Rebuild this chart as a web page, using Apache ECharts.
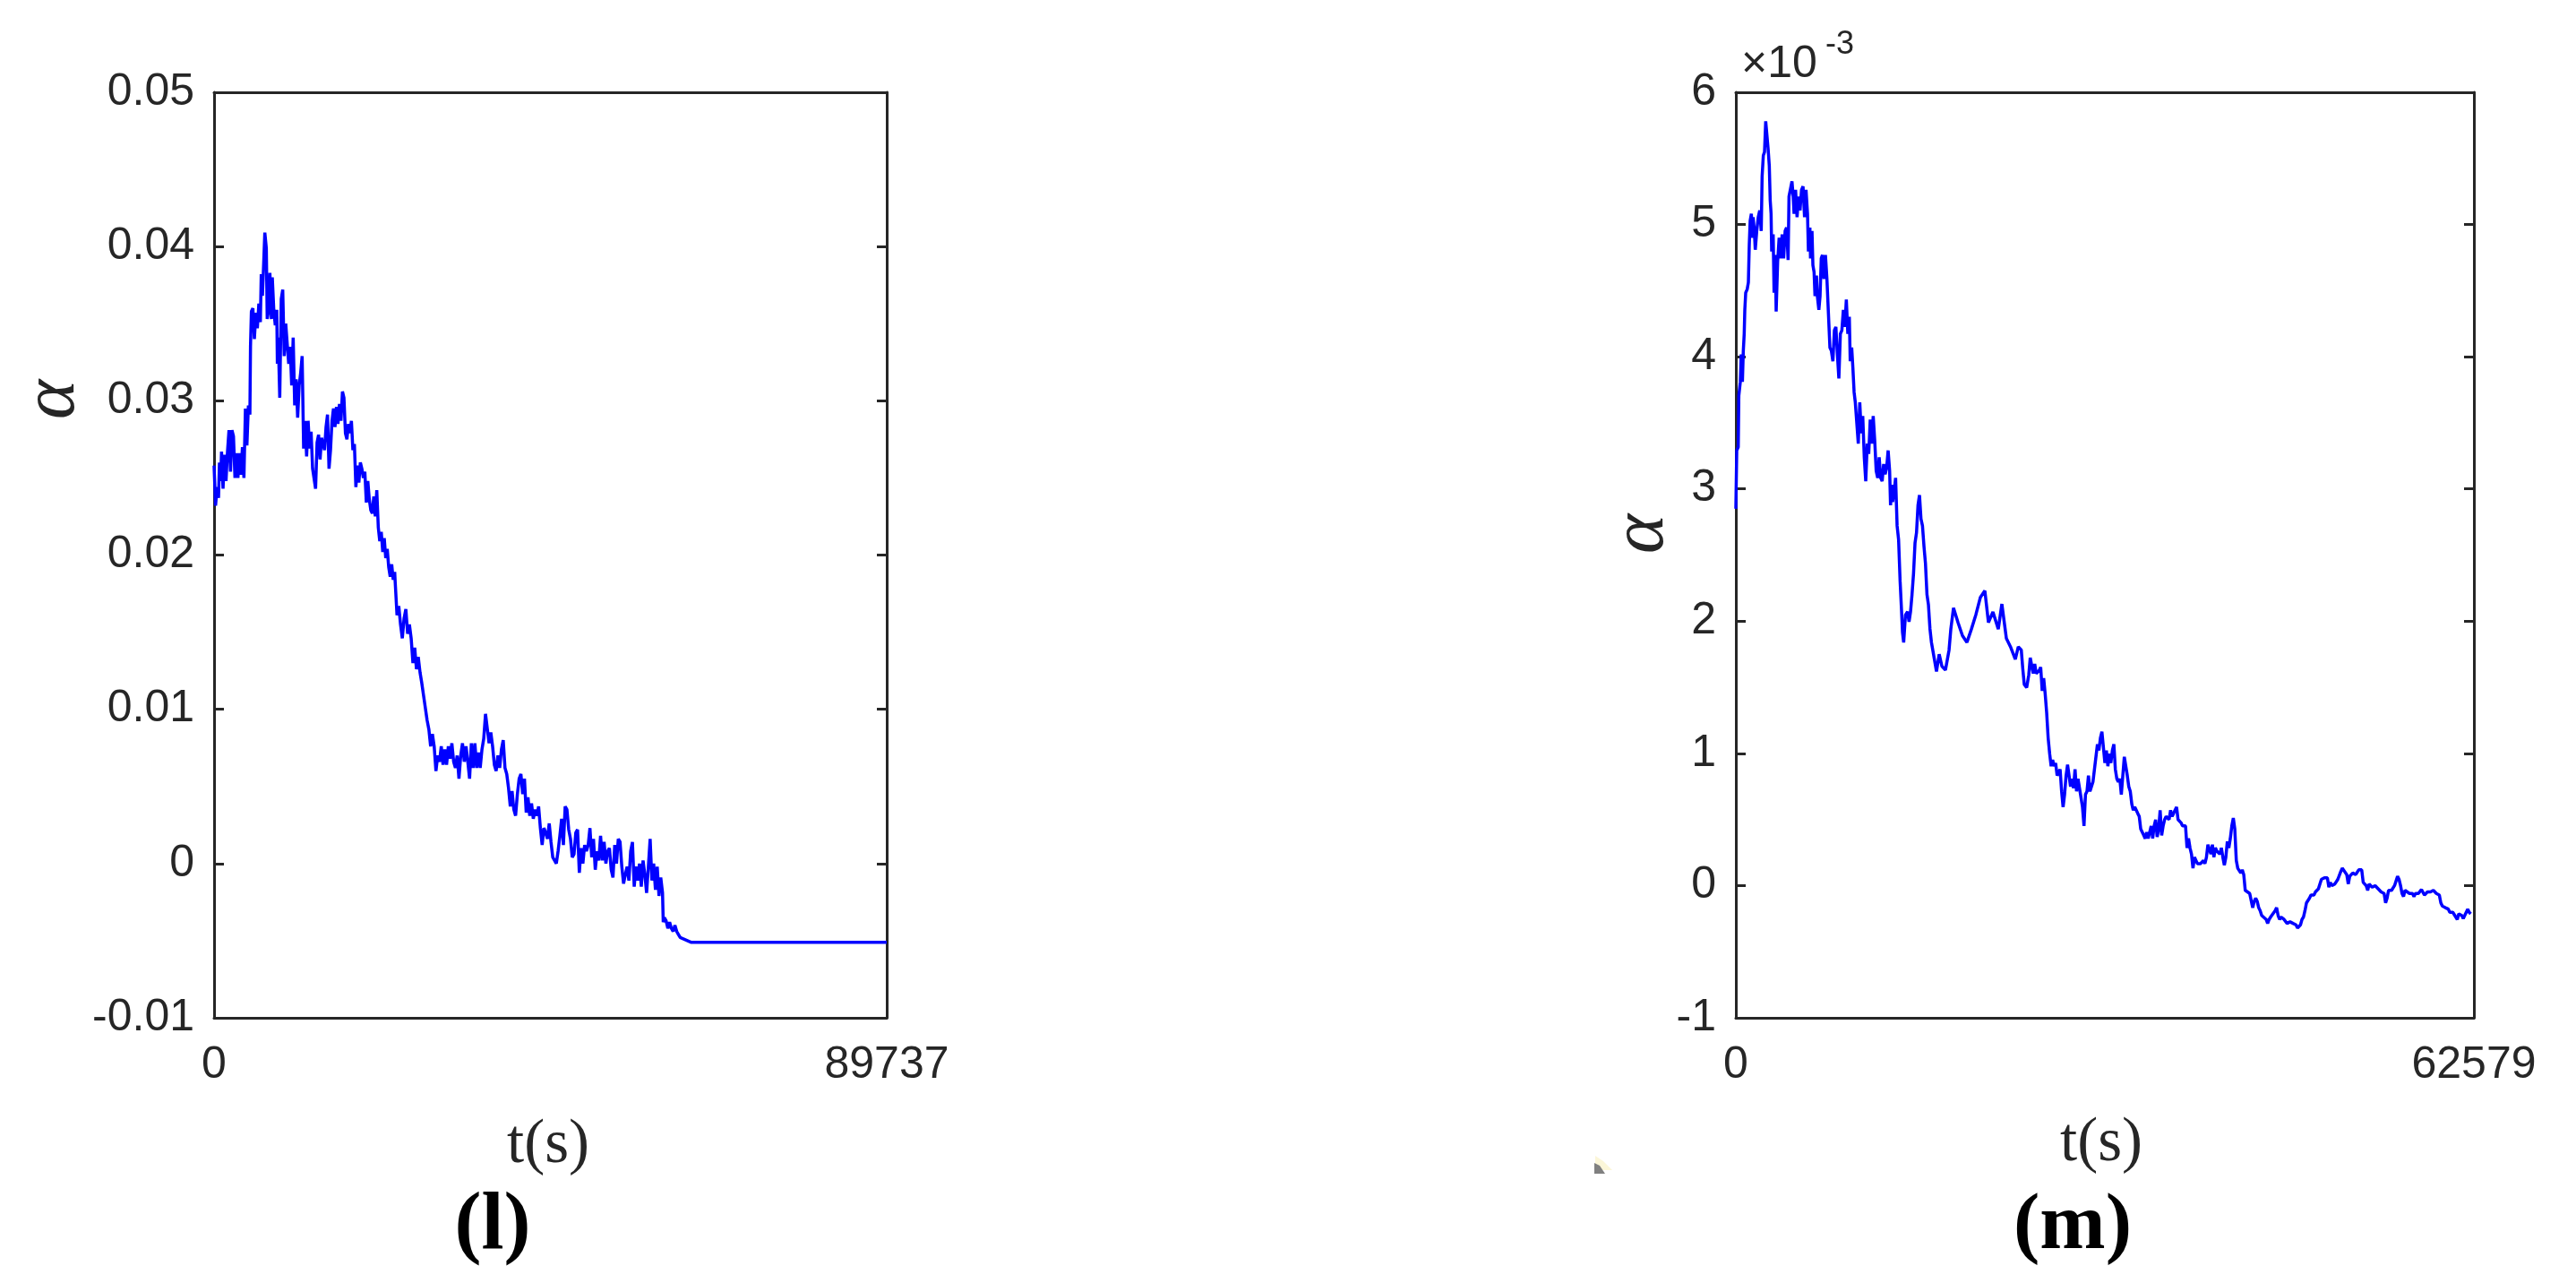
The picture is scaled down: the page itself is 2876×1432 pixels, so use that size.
<!DOCTYPE html>
<html>
<head>
<meta charset="utf-8">
<script src="https://cdn.jsdelivr.net/npm/echarts@6/dist/echarts.min.js"></script>
<style>
html,body{margin:0;padding:0;background:#fff;}
#c{width:2876px;height:1432px;}
</style>
</head>
<body>
<div id="c"></div>
<script>
// ---------- Panel (l) ----------
const lXMax = 89737;
const lYTicks = [-0.01, 0, 0.01, 0.02, 0.03, 0.04, 0.05];
const lTime = [0,199,398,597,717,876,996,1195,1394,1593,1792,1992,2191,2390,2589,2788,2987,3186,3386,3585,3784,3983,4182,4381,4580,4780,4859,4979,5178,5377,5576,5775,5975,6174,6293,6452,6572,6771,6970,7090,7289,7448,7647,7767,7966,8165,8364,8444,8563,8763,8962,9161,9360,9559,9758,9958,10157,10356,10555,10754,10953,11152,11352,11551,11750,11949,12148,12347,12546,12746,12945,13144,13542,13741,13941,14140,14339,14737,14936,15135,15335,15534,15733,15932,16131,16330,16529,16729,16928,17127,17326,17525,17724,17924,18123,18322,18521,18720,18919,19118,19318,19517,19716,19915,20114,20313,20512,20712,20911,21110,21309,21508,21707,21907,22106,22305,22504,22703,22902,23101,23301,23500,23699,23898,24097,
24169,24405,24641,24877,25113,25349,25586,25822,26058,26294,26530,26766,27002,27239,27475,27711,27947,28183,28419,28656,28892,29128,29364,29600,29836,30072,30309,30545,30781,31017,31253,31489,31725,31962,32198,32434,32670,32906,33142,33379,33615,33851,34087,34323,34559,34795,35032,35268,35504,35740,35976,36212,36448,36685,36921,37157,37393,37629,37865,38102,38338,38574,38810,39046,39282,39518,39755,39991,40227,40463,40699,40935,41171,41408,41644,41880,42116,42352,42588,42825,43061,43297,43533,43769,44005,44241,44478,44714,44950,45186,45422,45658,45894,46131,46367,46603,46839,47075,47311,47548,47784,48020,48256,48492,48728,48964,49201,49437,49673,49909,50145,50381,50617,50854,51090,51326,51562,51798,52034,52271,52507,52743,52979,53215,53451,53687,53924,54160,54396,54632,54868,55104,55340,55577,55813,56049,56285,56521,56757,56994,57230,57466,57702,57938,58174,58410,58647,58883,59119,59355,59591,59827,59922,60063,60300,60536,60772,61008,61244,61480,61717,61953,62189,62661,63133,63606,64078,89737];
const lAlpha = [0.0258,0.0232,0.0244,0.0237,0.0260,0.0248,0.0267,0.0243,0.0265,0.0248,0.0267,0.0281,0.0254,0.0281,0.0277,0.0250,0.0266,0.0250,0.0266,0.0252,0.0270,0.0250,0.0295,0.0271,0.0297,0.0291,0.0335,0.0358,0.0360,0.0340,0.0357,0.0347,0.0363,0.0351,0.0382,0.0368,0.0383,0.0409,0.0399,0.0353,0.0359,0.0383,0.0353,0.0380,0.0359,0.0349,0.0359,0.0324,0.0341,0.0302,0.0366,0.0372,0.0329,0.0350,0.0337,0.0324,0.0335,0.0310,0.0341,0.0297,0.0314,0.0289,0.0310,0.0318,0.0329,0.0269,0.0287,0.0264,0.0287,0.0269,0.0280,0.0256,0.0243,0.0273,0.0278,0.0262,0.0276,0.0268,0.0283,0.0291,0.0256,0.0268,0.0287,0.0295,0.0283,0.0296,0.0285,0.0298,0.0287,0.0306,0.0302,0.0279,0.0275,0.0285,0.0279,0.0287,0.0268,0.0272,0.0244,0.0258,0.0247,0.0260,0.0256,0.0250,0.0254,0.0234,0.0248,0.0236,0.0229,0.0227,0.0238,0.0225,0.0242,0.0218,0.0209,0.0215,0.0202,0.0211,0.0198,0.0204,0.0192,0.0186,0.0194,0.0184,0.0189,
0.0182,0.0161,0.0167,0.0155,0.0146,0.0159,0.0165,0.0149,0.0155,0.0146,0.0130,0.0140,0.0126,0.0134,0.0124,0.0117,0.0109,0.0101,0.0093,0.0087,0.0076,0.0084,0.0076,0.0060,0.0070,0.0066,0.0076,0.0064,0.0074,0.0064,0.0076,0.0068,0.0078,0.0066,0.0062,0.0070,0.0055,0.0070,0.0078,0.0066,0.0076,0.0066,0.0055,0.0078,0.0062,0.0078,0.0062,0.0072,0.0062,0.0074,0.0081,0.0097,0.0097,0.0078,0.0085,0.0076,0.0064,0.0060,0.0070,0.0062,0.0074,0.0080,0.0062,0.0058,0.0049,0.0037,0.0047,0.0035,0.0031,0.0045,0.0055,0.0058,0.0045,0.0055,0.0033,0.0043,0.0031,0.0039,0.0029,0.0035,0.0031,0.0037,0.0023,0.0012,0.0023,0.0020,0.0016,0.0026,0.0014,0.0004,0.0002,0.0000,0.0008,0.0018,0.0029,0.0012,0.0037,0.0035,0.0022,0.0016,0.0004,0.0006,0.0020,0.0022,-0.0006,0.0010,0.0000,0.0012,0.0008,0.0012,0.0023,0.0004,0.0016,-0.0004,0.0008,0.0002,0.0018,0.0002,0.0014,0.0000,0.0008,0.0010,-0.0004,-0.0009,0.0012,0.0000,0.0016,0.0014,-0.0002,-0.0013,-0.0007,-0.0002,-0.0011,0.0008,0.0014,-0.0015,-0.0002,-0.0011,0.0000,-0.0015,0.0002,-0.0007,-0.0019,-0.0002,0.0016,-0.0011,0.0000,-0.0017,-0.0002,-0.0021,-0.0009,-0.0019,-0.0038,-0.0035,-0.0037,-0.0042,-0.0038,-0.0042,-0.0044,-0.0040,-0.0044,-0.0046,-0.0048,-0.0049,-0.0050,-0.0051,-0.0051,-0.0051];

// ---------- Panel (m) (alpha in units of 1e-3) ----------
const mXMax = 62579;
const mYTicks = [-1, 0, 1, 2, 3, 4, 5, 6];
const mTime = [0,76,203,253,380,456,557,633,709,760,836,962,1063,1139,1215,1317,1393,1469,1570,1646,1772,1899,2026,2152,2228,2329,2431,2532,2633,2735,2836,2912,2988,3038,3165,3241,3342,3418,3545,3671,3798,3925,4051,4178,4304,4431,4507,4634,4760,4861,4937,5064,5191,5317,5444,5570,5697,5824,5950,6077,6153,6279,6330,6457,6533,6634,6710,6836,6912,7039,7140,7242,7343,7469,7596,7723,7849,7976,8102,8229,8356,8482,8609,8735,8862,8989,9115,9242,9368,9495,9622,9698,9824,9925,10027,10128,10255,10381,10508,10634,10761,10888,11014,11141,11267,11394,11521,11647,11774,11900,12027,12154,12280,12407,12533,12660,12787,12913,13040,13116,13217,13293,13420,13546,13673,13799,13926,14053,14129,14230,14382,14559,14686,14812,14939,15065,15192,15319,15445,15572,15698,15825,15952,16078,16205,16331,16458,16585,
17013,17241,17469,17772,18076,18228,18456,18836,19215,19595,19975,20355,20734,21114,21418,21798,22253,22557,22937,23317,
23696,23949,24202,24329,24456,24658,24835,24962,25089,25215,25342,25468,25722,25848,25975,26101,26228,26355,26481,26608,26734,26861,26988,27114,27241,27367,27494,27621,27747,27874,28000,28127,28254,28380,28507,28633,28760,28887,29013,29140,29266,29393,29520,29646,29773,29899,30026,30153,30279,30406,30532,30659,30786,30912,31039,31165,31292,31419,31545,31672,31798,31925,32052,32178,32305,32431,32558,32685,32811,32938,33064,33191,33318,33444,33571,33697,33824,33951,34077,34204,34330,34457,34584,34710,34837,34963,35090,35217,35343,35470,35596,35723,35850,35976,36103,36229,36356,36483,36609,36736,36862,36989,37116,37242,37369,37495,37622,37749,37875,38128,38255,38382,38508,38635,38761,38888,39015,39141,39394,39521,39648,39774,39901,40027,40154,40281,40407,40534,40660,40787,40914,41040,41167,41293,41420,41547,41673,41800,41926,42053,42180,42306,42433,42559,42686,42813,42939,43066,43192,43319,43572,43699,43825,43952,44079,44205,44332,44458,44585,44712,44965,45091,45218,45345,45471,45724,45851,45978,46104,46231,46484,46737,46990,47244,47497,47623,47750,47877,48003,48130,48256,48383,48510,48636,48763,49016,49143,49269,49396,49649,49902,50155,50282,50408,50535,50662,50788,51042,51295,51421,51548,51801,51928,52054,52308,52561,52687,52814,53067,53194,53447,53574,53700,53953,54207,54460,54713,54966,55093,55219,55346,55473,55599,55852,56106,56232,56359,56485,56612,56739,56865,57118,57372,57498,57625,57878,58131,58258,58384,58638,58891,59144,59271,59397,59650,59777,59904,60157,60410,60537,60790,60916,61043,61170,61296,61549,61676,61803,61929,62056,62182,62309];
const mAlpha = [2.850,3.291,3.317,3.706,3.810,4.018,3.810,4.044,4.173,4.355,4.484,4.510,4.562,4.847,5.029,5.081,4.899,5.055,4.951,4.809,4.951,5.055,5.107,4.951,5.366,5.522,5.548,5.781,5.781,5.574,5.444,5.185,5.081,4.796,4.925,4.484,4.770,4.342,4.718,4.899,4.744,4.925,4.744,4.951,4.977,4.731,5.211,5.198,5.327,5.211,5.081,5.262,5.055,5.211,5.107,5.262,5.288,5.055,5.262,5.081,4.796,4.977,4.744,4.951,4.692,4.640,4.458,4.614,4.458,4.355,4.458,4.744,4.770,4.588,4.770,4.588,4.329,4.069,4.044,3.966,4.199,4.225,4.018,3.836,4.173,4.199,4.355,4.225,4.433,4.173,4.303,3.966,4.069,3.914,3.732,3.655,3.499,3.343,3.655,3.421,3.551,3.240,3.058,3.343,3.265,3.525,3.343,3.551,3.369,3.136,3.084,3.240,3.084,3.058,3.188,3.110,3.162,3.291,3.136,2.877,3.032,2.902,2.980,3.084,2.721,2.617,2.306,2.072,1.917,1.839,2.047,2.072,1.995,2.072,2.202,2.358,2.591,2.669,2.877,2.954,2.773,2.721,2.565,2.436,2.202,2.124,1.943,1.839,
1.62,1.75,1.66,1.63,1.78,1.94,2.10,1.99,1.89,1.84,1.94,2.05,2.18,2.23,1.99,2.07,1.94,2.13,1.87,1.80,
1.711,1.806,1.782,1.640,1.521,1.497,1.592,1.723,1.723,1.604,1.676,1.604,1.628,1.652,1.473,1.569,1.450,1.307,1.117,0.998,0.903,0.951,0.903,0.927,0.832,0.820,0.879,0.713,0.594,0.689,0.832,0.915,0.832,0.749,0.808,0.737,0.879,0.713,0.808,0.737,0.665,0.594,0.451,0.689,0.713,0.832,0.713,0.749,0.784,0.879,0.974,1.069,1.022,1.117,1.164,1.164,0.927,1.022,0.903,0.998,0.927,1.022,1.069,0.879,0.808,0.784,0.808,0.689,0.832,0.974,0.974,0.832,0.749,0.713,0.618,0.570,0.594,0.594,0.546,0.523,0.428,0.404,0.380,0.356,0.404,0.356,0.404,0.451,0.356,0.451,0.499,0.368,0.428,0.570,0.380,0.451,0.499,0.523,0.523,0.499,0.570,0.523,0.546,0.546,0.594,0.499,0.499,0.475,0.451,0.451,0.285,0.356,0.285,0.238,0.131,0.214,0.190,0.166,0.166,0.154,0.190,0.166,0.214,0.309,0.309,0.238,0.309,0.214,0.285,0.261,0.261,0.238,0.285,0.214,0.154,0.214,0.333,0.285,0.356,0.451,0.511,0.428,0.190,0.131,0.119,0.095,0.119,0.083,-0.036,-0.048,-0.060,-0.072,-0.167,-0.119,-0.095,-0.119,-0.167,-0.190,-0.226,-0.238,-0.256,-0.286,-0.256,-0.238,-0.226,-0.190,-0.167,-0.226,-0.256,-0.238,-0.256,-0.286,-0.274,-0.286,-0.297,-0.321,-0.309,-0.297,-0.256,-0.238,-0.190,-0.131,-0.143,-0.095,-0.072,-0.072,-0.048,-0.036,-0.024,0.047,0.059,0.059,-0.012,0.024,0.000,-0.012,0.012,0.047,0.107,0.131,0.119,0.083,0.012,0.071,0.095,0.083,0.071,0.119,0.119,0.024,0.000,-0.036,0.012,-0.012,0.000,-0.024,-0.048,-0.060,-0.131,-0.095,-0.036,-0.048,-0.036,0.000,0.071,0.047,0.000,-0.060,-0.083,-0.036,-0.048,-0.060,-0.060,-0.083,-0.060,-0.060,-0.029,-0.024,-0.072,-0.048,-0.048,-0.036,-0.048,-0.060,-0.072,-0.131,-0.155,-0.167,-0.178,-0.202,-0.202,-0.190,-0.238,-0.256,-0.214,-0.226,-0.250,-0.226,-0.214,-0.178,-0.202,-0.214];

const AX = '#262626';
const FONT = 'Liberation Sans, Arial, sans-serif';
const SERIF = 'Liberation Serif, Times New Roman, serif';

function zip(a, b) { const r = []; for (let i = 0; i < Math.min(a.length, b.length); i++) r.push([a[i], b[i]]); return r; }

function xAxes(gi, xmax) {
  const base = {
    gridIndex: gi, type: 'value', min: 0, max: xmax, interval: xmax,
    axisLine: { show: true, onZero: false, lineStyle: { color: AX, width: 3 } },
    axisTick: { show: true, inside: true, length: 11, lineStyle: { color: AX, width: 3 } },
    splitLine: { show: false }
  };
  return [
    Object.assign({}, base, { position: 'bottom',
      axisLabel: { show: true, margin: 28, fontSize: 50, color: AX, fontFamily: FONT, showMinLabel: true, showMaxLabel: true, formatter: v => String(Math.round(v)) } }),
    Object.assign({}, base, { position: 'top', axisLabel: { show: false } })
  ];
}
function yAxes(gi, ticks, fmt) {
  const base = {
    gridIndex: gi, type: 'value', min: ticks[0], max: ticks[ticks.length - 1], interval: ticks[1] - ticks[0],
    axisLine: { show: true, onZero: false, lineStyle: { color: AX, width: 3 } },
    axisTick: { show: true, inside: true, length: 11, lineStyle: { color: AX, width: 3 } },
    splitLine: { show: false }
  };
  return [
    Object.assign({}, base, { position: 'left',
      axisLabel: { show: true, margin: 22, fontSize: 50, color: AX, fontFamily: FONT, showMinLabel: true, showMaxLabel: true, formatter: fmt } }),
    Object.assign({}, base, { position: 'right', axisLabel: { show: false } })
  ];
}

const fmtL = v => { const r = Math.round(v * 100) / 100; return r === 0 ? '0' : String(r); };
const fmtM = v => String(Math.round(v));

const chart = echarts.init(document.getElementById('c'), null, { renderer: 'canvas' });
chart.setOption({
  animation: false,
  backgroundColor: '#ffffff',
  grid: [
    { left: 239, top: 103, width: 751, height: 1033 },
    { left: 1938, top: 103, width: 824, height: 1033 }
  ],
  xAxis: [...xAxes(0, lXMax), ...xAxes(1, mXMax)],
  yAxis: [...yAxes(0, lYTicks, fmtL), ...yAxes(1, mYTicks, fmtM)],
  series: [
    { type: 'line', xAxisIndex: 0, yAxisIndex: 0, data: zip(lTime, lAlpha), showSymbol: false, symbol: 'none',
      lineStyle: { color: '#0000ff', width: 3.5 }, z: 1 },
    { type: 'line', xAxisIndex: 2, yAxisIndex: 2, data: zip(mTime, mAlpha), showSymbol: false, symbol: 'none',
      lineStyle: { color: '#0000ff', width: 3.5 }, z: 1 }
  ],
  graphic: [
    { type: 'text', x: 612, y: 1279, style: { text: 't(s)', font: '69px ' + SERIF, fill: AX, textAlign: 'center', textVerticalAlign: 'middle' } },
    { type: 'text', x: 2346, y: 1277, style: { text: 't(s)', font: '69px ' + SERIF, fill: AX, textAlign: 'center', textVerticalAlign: 'middle' } },
    { type: 'text', x: 550, y: 1370, style: { text: '(l)', font: 'bold 90px ' + SERIF, fill: '#000', textAlign: 'center', textVerticalAlign: 'middle' } },
    { type: 'text', x: 2314, y: 1370, style: { text: '(m)', font: 'bold 88px ' + SERIF, fill: '#000', textAlign: 'center', textVerticalAlign: 'middle' } },
    { type: 'text', x: 60, y: 446, rotation: Math.PI / 2, style: { text: 'α', font: 'italic 84px ' + SERIF, fill: AX, textAlign: 'center', textVerticalAlign: 'middle' } },
    { type: 'text', x: 1834, y: 596, rotation: Math.PI / 2, style: { text: 'α', font: 'italic 84px ' + SERIF, fill: AX, textAlign: 'center', textVerticalAlign: 'middle' } },
    { type: 'text', x: 1944, y: 72, style: { text: '×10', font: '50px ' + FONT, fill: AX, textAlign: 'left', textVerticalAlign: 'middle' } },
    { type: 'text', x: 2038, y: 50, style: { text: '-3', font: '36px ' + FONT, fill: AX, textAlign: 'left', textVerticalAlign: 'middle' } },
    { type: 'polygon', shape: { points: [[1781, 1290], [1790, 1296], [1800, 1306], [1781, 1306]] }, style: { fill: '#fbf6d8' } },
    { type: 'polygon', shape: { points: [[1780, 1298], [1786, 1301], [1792, 1310], [1780, 1310]] }, style: { fill: '#808080' } }
  ]
});
</script>
</body>
</html>
